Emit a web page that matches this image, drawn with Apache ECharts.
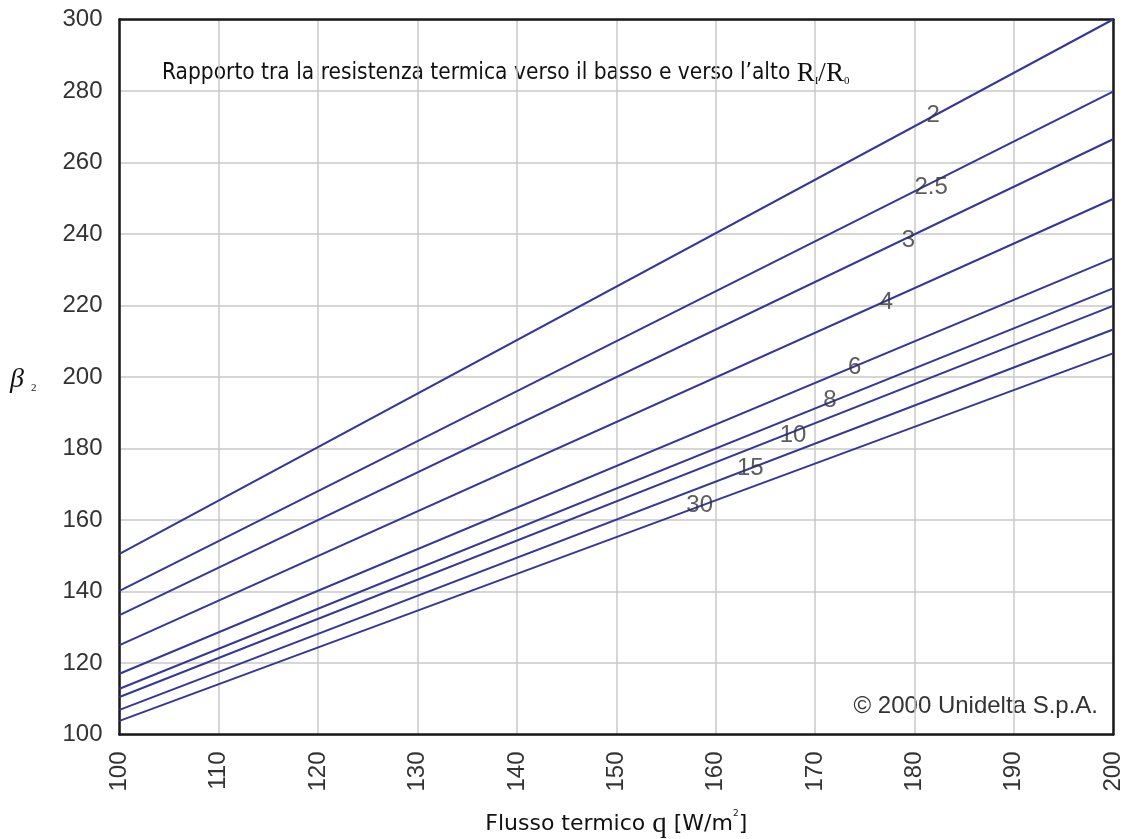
<!DOCTYPE html>
<html>
<head>
<meta charset="utf-8">
<script src="https://cdn.jsdelivr.net/npm/echarts@6/dist/echarts.min.js"></script>
<style>
  html, body { margin: 0; padding: 0; background: #fff; }
  #chart { width: 1128px; height: 839px; }
</style>
</head>
<body>
<div id="chart"></div>
<script>
// Resistance ratio R_I/R_0 for each line
const ratios = ['2', '2.5', '3', '4', '6', '8', '10', '15', '30'];
// Heat flux range q [W/m²]
const qStart = 100;
const qEnd = 200;
// β₂ at q = 100 and at q = 200 for each ratio
const betaAtStart = [150.5, 140.2, 133.4, 125.0, 117.0, 112.8, 110.5, 106.9, 103.8];
const betaAtEnd = [300.0, 279.8, 266.5, 249.8, 233.2, 224.8, 219.9, 213.3, 206.6];
// Where each ratio is written along its line
const labelQ = [181.9, 181.7, 179.4, 177.2, 174.0, 171.5, 167.8, 163.5, 158.4];
const labelBeta = [273.3, 253.1, 238.3, 221.0, 202.8, 193.6, 183.8, 174.5, 164.2];
// Axis ticks
const xTicks = { min: 100, max: 200, step: 10 };
const yTicks = { min: 100, max: 300, step: 20 };

const lineColor = '#36369a';
const textColor = '#333';
const frame = { show: true, lineStyle: { color: '#1a1a1a', width: 2.5 } };
const gridLine = { show: true, lineStyle: { color: '#c8c8c8', width: 1.5 } };
const tickFont = { fontSize: 24, fontFamily: 'Liberation Sans, Arial, sans-serif', color: textColor };

const lineSeries = ratios.map((r, i) => ({
  name: r,
  type: 'line',
  data: [[qStart, betaAtStart[i]], [qEnd, betaAtEnd[i]]],
  showSymbol: false,
  lineStyle: { color: lineColor, width: 2 },
  silent: true,
  z: 3
}));

const labelSeries = {
  type: 'scatter',
  data: ratios.map((r, i) => [labelQ[i], labelBeta[i], r]),
  symbolSize: 0,
  silent: true,
  z: 5,
  label: {
    show: true,
    position: 'inside',
    formatter: p => p.value[2],
    fontFamily: 'Liberation Sans, Arial, sans-serif',
    fontSize: 24,
    color: textColor
  }
};

const chart = echarts.init(document.getElementById('chart'), null, { renderer: 'canvas' });
chart.setOption({
  animation: false,
  backgroundColor: '#fff',
  grid: { left: 119.5, right: 15, top: 19.5, bottom: 104.5, outerBoundsMode: 'none', containLabel: false },
  xAxis: [
    {
      type: 'value',
      min: xTicks.min, max: xTicks.max, interval: xTicks.step,
      axisLine: frame,
      axisTick: { show: false },
      splitLine: gridLine,
      axisLabel: Object.assign({ rotate: 90, margin: 17 }, tickFont),
      name: '{t|Flusso termico }{q|q}{t| [W/m}{s|2}{t|]}',
      nameLocation: 'middle',
      nameGap: 75,
      nameTextStyle: {
        rich: {
          t: { fontFamily: 'DejaVu Sans', fontSize: 22, color: '#111' },
          q: { fontFamily: 'Liberation Serif', fontSize: 29, color: '#111' },
          s: { fontFamily: 'DejaVu Sans', fontSize: 9, color: '#111', verticalAlign: 'top' }
        }
      }
    },
    {
      type: 'value', position: 'top',
      min: xTicks.min, max: xTicks.max, interval: xTicks.step,
      axisLine: frame, axisTick: { show: false }, axisLabel: { show: false }, splitLine: { show: false }
    }
  ],
  yAxis: [
    {
      type: 'value',
      min: yTicks.min, max: yTicks.max, interval: yTicks.step,
      axisLine: frame,
      axisTick: { show: false },
      splitLine: gridLine,
      axisLabel: Object.assign({ margin: 17 }, tickFont)
    },
    {
      type: 'value', position: 'right',
      min: yTicks.min, max: yTicks.max, interval: yTicks.step,
      axisLine: frame, axisTick: { show: false }, axisLabel: { show: false }, splitLine: { show: false }
    }
  ],
  graphic: [
    {
      type: 'text',
      left: 10, top: 366,
      style: {
        text: '{b|β}{s|2}',
        rich: {
          b: { fontFamily: 'Liberation Serif', fontStyle: 'italic', fontSize: 28, fill: '#111' },
          s: { fontFamily: 'Liberation Serif', fontSize: 11, fill: '#111', verticalAlign: 'bottom', padding: [0, 0, 0, 7] }
        }
      }
    },
    {
      type: 'text',
      left: 162, top: 60,
      style: {
        text: '{t|Rapporto tra la resistenza termica verso il basso e verso l\u2019alto }{r|R}{s|I}{r|/R}{s|0}',
        rich: {
          t: { fontFamily: 'DejaVu Sans Condensed', fontSize: 22.5, fill: '#111' },
          r: { fontFamily: 'Liberation Serif', fontSize: 27, fill: '#111' },
          s: { fontFamily: 'Liberation Serif', fontSize: 11, fill: '#111', verticalAlign: 'bottom' }
        }
      }
    },
    {
      type: 'text',
      right: 30, top: 694,
      style: {
        text: '\u00A9 2000 Unidelta S.p.A.',
        fontFamily: 'Liberation Sans, Arial, sans-serif',
        fontSize: 24,
        fill: textColor
      }
    }
  ],
  series: [...lineSeries, labelSeries]
});
</script>
</body>
</html>
